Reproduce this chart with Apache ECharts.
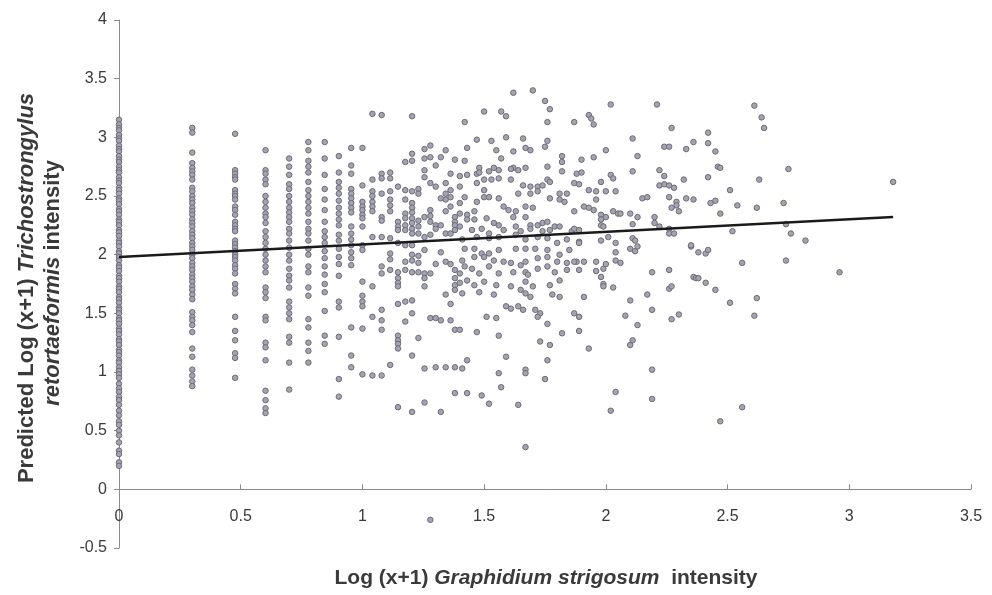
<!DOCTYPE html>
<html><head><meta charset="utf-8">
<script src="https://cdn.jsdelivr.net/npm/echarts@6/dist/echarts.min.js"></script>
<style>html,body{margin:0;padding:0;background:#fff}#c{width:992px;height:595px}</style>
</head><body><div id="c"></div>
<script>
// ---- data ----
const xTickLabels = ['0','0.5','1','1.5','2','2.5','3','3.5'];
const yTickLabels = ['-0.5','0','0.5','1','1.5','2','2.5','3','3.5','4'];

// discrete columns: x = log10(n+1)
const colX = [0, 0.301, 0.477, 0.602, 0.699, 0.778, 0.845, 0.903, 0.954, 1.0, 1.041, 1.079, 1.114, 1.146, 1.176, 1.204, 1.23, 1.255, 1.279, 1.301, 1.322, 1.342, 1.362, 1.38];
const yCol0 = [3.15,3.11,3.08,3.06,3.02,2.99,2.97,2.93,2.9,2.88,2.84,2.81,2.79,2.75,2.72,2.7,2.66,2.63,2.61,2.57,2.55,2.52,2.48,2.46,2.43,2.39,2.37,2.34,2.3,2.28,2.25,2.21,2.19,2.16,2.12,2.1,2.07,2.03,2.01,1.98,1.95,1.91,1.89,1.86,1.82,1.8,1.77,1.73,1.71,1.68,1.64,1.62,1.59,1.55,1.53,1.5,1.46,1.44,1.41,1.37,1.35,1.32,1.28,1.26,1.23,1.19,1.17,1.14,1.1,1.08,1.04,1.01,0.98,0.95,0.9,0.86,0.83,0.79,0.76,0.72,0.67,0.63,0.58,0.55,0.5,0.46,0.4,0.33,0.3,0.23,0.2];
const yCol1 = [3.08,3.04,2.87,2.78,2.74,2.71,2.68,2.64,2.57,2.54,2.5,2.47,2.44,2.4,2.37,2.34,2.3,2.27,2.24,2.2,2.17,2.14,2.1,2.07,2.04,2.0,1.97,1.93,1.9,1.87,1.83,1.8,1.77,1.73,1.7,1.66,1.62,1.51,1.47,1.44,1.4,1.34,1.2,1.13,1.02,0.97,0.92,0.88];
const yCol2 = [3.03,2.72,2.69,2.66,2.64,2.55,2.52,2.5,2.47,2.41,2.38,2.34,2.28,2.25,2.22,2.2,2.12,2.09,2.06,2.03,2.0,1.98,1.95,1.91,1.88,1.84,1.75,1.71,1.67,1.47,1.35,1.27,1.16,1.12,0.95];
const yCol3 = [2.89,2.72,2.69,2.64,2.6,2.5,2.45,2.4,2.35,2.32,2.27,2.2,2.15,2.1,2.05,2.0,1.95,1.9,1.85,1.72,1.68,1.63,1.47,1.44,1.25,1.21,1.1,0.84,0.76,0.69,0.65];
const yCol4 = [2.82,2.75,2.68,2.6,2.56,2.5,2.45,2.4,2.36,2.32,2.28,2.22,2.18,2.12,2.06,2.0,1.95,1.88,1.82,1.78,1.72,1.6,1.55,1.5,1.45,1.3,1.25,1.08,0.85];
const yCol5 = [2.96,2.89,2.8,2.75,2.7,2.62,2.55,2.5,2.45,2.4,2.35,2.28,2.22,2.18,2.12,2.05,2.0,1.9,1.85,1.72,1.65,1.45,1.38,1.25,1.18,1.08];
const yCol6 = [2.96,2.82,2.68,2.56,2.47,2.38,2.28,2.2,2.15,2.1,2.03,1.97,1.9,1.83,1.75,1.68,1.52,1.31,1.24];
const yCol7 = [2.84,2.7,2.62,2.57,2.52,2.46,2.4,2.35,2.3,2.25,2.17,2.12,2.05,1.98,1.92,1.82,1.6,1.55,1.3,0.94,0.79];
const yCol8 = [2.91,2.76,2.69,2.56,2.52,2.48,2.44,2.4,2.36,2.24,2.18,2.13,2.08,2.02,1.97,1.91,1.38,1.14,1.04];
const yCol9 = [2.91,2.59,2.45,2.41,2.38,2.34,2.31,2.24,2.08,2.04,1.77,1.65,1.6,1.56,1.37,0.98];
const yCol10 = [3.2,2.64,2.54,2.5,2.45,2.41,2.37,2.15,1.73,1.47,0.97];
const yCol11 = [3.19,2.69,2.65,2.52,2.32,2.29,2.15,1.9,1.84,1.53,1.44,1.36,0.97];
const yCol12 = [2.7,2.65,2.54,2.47,2.42,2.37,2.14,2.01,1.96,1.87,1.06];
const yCol13 = [2.58,2.28,2.24,2.21,2.1,1.85,1.8,1.76,1.73,1.58,1.31,1.27,1.24,1.2,0.7];
const yCol14 = [2.79,2.55,2.47,2.35,2.31,2.25,2.21,2.08,1.94,1.87,1.6,1.43];
const yCol15 = [3.18,2.86,2.8,2.54,2.44,2.4,2.36,2.31,2.27,2.22,2.18,2.08,2.0,1.95,1.85,1.61,1.5,1.14,0.66];
const yCol16 = [2.56,2.52,2.29,2.24,2.18,1.99,1.93,1.85,1.29];
const yCol17 = [2.9,2.82,2.72,2.66,2.32,2.15,2.04,1.84,1.8,1.73,1.03,0.74];
const yCol18 = [2.93,2.83,2.61,2.38,2.33,2.28,2.17,1.84,1.46,-0.26];
const yCol19 = [2.76,2.58,2.25,2.22,1.92,1.46,1.04];
const yCol20 = [2.83,2.48,2.25,2.02,1.44,0.66];
const yCol21 = [2.89,2.61,2.52,2.47,2.37,2.18,1.94,1.66,1.04];
const yCol22 = [2.69,2.55,2.49,2.41,2.18,1.92,1.58,1.44];
const yCol23 = [2.81,2.32,2.28,2.25,2.21,1.87,1.8,1.74,1.7,1.36,1.04,0.82];
const colY = [yCol0,yCol1,yCol2,yCol3,yCol4,yCol5,yCol6,yCol7,yCol8,yCol9,yCol10,yCol11,yCol12,yCol13,yCol14,yCol15,yCol16,yCol17,yCol18,yCol19,yCol20,yCol21,yCol22,yCol23];

// scattered points for larger x  [x, y]
const scatterPts = [
[1.62,3.38],[1.70,3.40],[1.50,3.22],[1.57,3.22],[1.59,3.18],[1.75,3.31],[1.77,3.24],[1.42,3.13],[1.76,3.13],[1.87,3.13],
[1.47,2.98],[1.53,2.97],[1.59,3.0],[1.66,2.99],[1.76,2.97],[1.43,2.91],[1.55,2.89],[1.62,2.88],[1.67,2.91],[1.69,2.89],[1.75,2.92],
[1.42,2.80],[1.57,2.82],[1.82,2.84],[1.82,2.79],[1.48,2.74],[1.54,2.74],[1.62,2.74],[1.76,2.75],
[1.40,2.67],[1.43,2.68],[1.47,2.69],[1.48,2.70],[1.52,2.71],[1.56,2.72],[1.61,2.73],[1.64,2.72],[1.67,2.74],[1.82,2.71],[1.88,2.69],
[1.40,2.58],[1.47,2.61],[1.50,2.64],[1.53,2.64],[1.56,2.65],[1.61,2.64],[1.66,2.59],[1.69,2.58],[1.72,2.58],[1.74,2.59],[1.76,2.64],[1.77,2.62],
[1.42,2.49],[1.50,2.55],[1.50,2.49],[1.52,2.49],[1.56,2.48],[1.64,2.52],[1.69,2.52],[1.72,2.54],[1.77,2.48],[1.81,2.52],[1.84,2.52],
[1.40,2.44],[1.47,2.45],[1.58,2.41],[1.60,2.38],[1.63,2.37],[1.67,2.41],[1.70,2.40],[1.81,2.47],[1.83,2.45],
[1.40,2.35],[1.43,2.34],[1.46,2.37],[1.46,2.30],[1.51,2.31],[1.54,2.27],[1.56,2.25],[1.62,2.32],[1.67,2.32],[1.69,2.25],[1.72,2.25],[1.74,2.27],[1.76,2.28],[1.79,2.24],
[1.40,2.24],[1.43,2.30],[1.45,2.21],[1.49,2.22],[1.52,2.18],[1.58,2.21],[1.63,2.24],[1.65,2.20],[1.69,2.22],[1.74,2.20],[1.77,2.21],[1.81,2.24],[1.86,2.20],
[1.41,2.13],[1.47,2.15],[1.52,2.14],[1.56,2.15],[1.63,2.17],[1.67,2.13],[1.72,2.15],[1.76,2.14],[1.80,2.10],[1.84,2.13],
[1.42,2.05],[1.46,2.05],[1.49,2.01],[1.52,2.01],[1.56,2.04],[1.63,2.05],[1.67,2.05],[1.71,2.05],[1.76,2.04],[1.81,2.0],[1.85,2.04],
[1.41,1.95],[1.46,1.98],[1.50,1.98],[1.54,1.95],[1.58,1.94],[1.61,1.93],[1.65,1.91],[1.67,1.94],[1.72,1.97],[1.76,1.98],[1.80,1.94],[1.84,1.93],[1.88,1.94],
[1.40,1.84],[1.42,1.90],[1.45,1.88],[1.48,1.84],[1.52,1.90],[1.56,1.84],[1.62,1.85],[1.67,1.85],[1.68,1.83],[1.72,1.88],[1.76,1.90],[1.79,1.85],[1.84,1.87],
[1.40,1.76],[1.43,1.78],[1.46,1.74],[1.50,1.77],[1.55,1.74],[1.61,1.73],[1.67,1.77],[1.70,1.73],[1.77,1.74],[1.81,1.78],
[1.41,1.67],[1.48,1.68],[1.54,1.66],[1.65,1.70],[1.67,1.67],[1.69,1.64],[1.78,1.66],[1.81,1.64],
[1.59,1.56],[1.61,1.54],[1.64,1.56],[1.66,1.53],[1.71,1.53],[1.73,1.50],[1.51,1.47],[1.55,1.46],[1.72,1.47],[1.76,1.41],
[1.40,1.36],[1.47,1.34],[1.56,1.31],[1.73,1.26],[1.82,1.33],[1.77,1.23],
[1.43,1.10],[1.59,1.13],[1.67,1.02],[1.67,0.99],[1.76,1.10],[1.41,1.03],[1.56,0.99],[1.57,0.87],[1.75,0.94],
[1.43,0.82],[1.49,0.80],[1.52,0.73],[1.64,0.72],[1.67,0.36],
[2.02,3.28],[2.21,3.28],[1.93,3.19],[1.94,3.16],[1.95,3.11],[2.11,2.99],[2.27,3.08],[2.24,2.92],[2.26,2.92],[2.33,2.90],[2.36,2.96],
[2.00,2.89],[1.90,2.81],[1.95,2.83],[2.13,2.84],[1.90,2.70],[2.02,2.68],[2.03,2.65],[2.11,2.71],[2.22,2.72],[2.24,2.67],[2.32,2.64],
[1.87,2.61],[1.89,2.60],[1.98,2.62],[2.22,2.59],[2.24,2.60],[2.26,2.59],[2.28,2.57],[1.93,2.55],[1.96,2.54],[2.0,2.54],[2.04,2.54],
[1.96,2.47],[2.15,2.48],[2.17,2.49],[2.26,2.49],[2.29,2.45],[2.29,2.42],[2.33,2.48],[2.36,2.47],[1.91,2.41],[1.93,2.40],[1.95,2.38],
[2.27,2.40],[2.30,2.37],[1.87,2.37],[1.98,2.34],[2.0,2.32],[2.03,2.37],[2.05,2.35],[2.06,2.35],[2.10,2.35],[2.13,2.32],[2.20,2.32],
[1.98,2.30],[1.98,2.25],[1.99,2.24],[2.11,2.26],[2.20,2.27],[2.22,2.24],[1.87,2.22],[1.89,2.21],[2.26,2.22],[2.26,2.18],[2.28,2.18],
[1.89,2.11],[1.89,2.10],[1.98,2.12],[2.01,2.15],[2.04,2.10],[2.11,2.14],[2.12,2.12],[2.10,2.05],[2.12,2.03],[2.13,2.07],[2.35,2.07],[2.04,2.02],
[1.87,1.94],[1.91,1.94],[1.96,1.94],[2.0,1.92],[2.04,1.95],[2.06,1.93],[1.89,1.87],[1.96,1.86],[1.99,1.88],[2.19,1.85],[2.26,1.87],
[1.98,1.81],[1.99,1.75],[1.99,1.73],[2.03,1.72],[2.26,1.71],[2.27,1.73],[2.36,1.81],[1.91,1.64],[2.10,1.61],[2.17,1.66],[2.19,1.53],
[1.87,1.50],[1.89,1.47],[2.08,1.48],[2.27,1.45],[2.30,1.49],[1.89,1.35],[2.13,1.40],[2.10,1.23],[2.11,1.27],[1.93,1.20],
[2.19,1.02],[2.04,0.83],[2.19,0.77],[2.02,0.67],
[2.61,3.27],[2.64,3.17],[2.65,3.08],[2.42,3.04],[2.42,2.95],[2.45,2.88],[2.46,2.75],[2.47,2.74],[2.75,2.73],[2.42,2.66],[2.63,2.64],
[2.51,2.55],[2.43,2.44],[2.45,2.46],[2.54,2.42],[2.62,2.40],[2.73,2.44],[2.47,2.35],[2.74,2.26],[2.52,2.20],[2.76,2.18],[2.82,2.12],
[2.35,2.08],[2.38,2.02],[2.41,2.01],[2.42,2.04],[2.56,1.93],[2.74,1.95],[2.37,1.80],[2.38,1.80],[2.41,1.76],[2.45,1.70],[2.51,1.59],
[2.62,1.63],[2.61,1.48],[2.56,0.70],[2.47,0.58],
[3.18,2.62],[2.96,1.85]
];

// fitted regression line
const lineX = [0, 3.18];
const lineY = [1.98, 2.32];

// ---- build ----
const pts = [];
colX.forEach((x, i) => colY[i].forEach(y => pts.push([x, y])));
scatterPts.forEach(p => pts.push(p));

const FONT = "'Liberation Sans', Arial, sans-serif";
const TXT = '#3a3a3a';
const richStyles = size => ({
  n: {fontFamily: FONT, fontSize: size, fontWeight: 'bold', fill: TXT, color: TXT},
  i: {fontFamily: FONT, fontSize: size, fontWeight: 'bold', fontStyle: 'italic', fill: TXT, color: TXT}
});
const chart = echarts.init(document.getElementById('c'), null, {renderer: 'canvas'});
chart.setOption({
  animation: false,
  backgroundColor: '#ffffff',
  grid: {left: 119, right: 21, top: 20, bottom: 47, containLabel: false},
  xAxis: {
    type: 'value', min: 0, max: 3.5, interval: 0.5,
    axisLine: {onZero: true, lineStyle: {color: '#8a8a8a', width: 1}},
    axisTick: {show: true, inside: true, length: 5, lineStyle: {color: '#8a8a8a'}},
    axisLabel: {margin: -39, fontFamily: FONT, fontSize: 16, color: TXT, hideOverlap: false,
      formatter: v => xTickLabels[Math.round(v / 0.5)]},
    splitLine: {show: false}
  },
  yAxis: {
    type: 'value', min: -0.5, max: 4, interval: 0.5,
    axisLine: {onZero: false, lineStyle: {color: '#8a8a8a', width: 1}},
    axisTick: {show: true, inside: false, length: 5, lineStyle: {color: '#8a8a8a'}},
    axisLabel: {margin: 12, fontFamily: FONT, fontSize: 16, color: TXT,
      formatter: v => yTickLabels[Math.round((v + 0.5) / 0.5)]},
    splitLine: {show: false}
  },
  graphic: [
    {type: 'text', x: 27, y: 288, rotation: Math.PI / 2,
      style: {text: '{n|Predicted Log (x+1) }{i|Trichostrongylus}', align: 'center', verticalAlign: 'middle', rich: richStyles(22)}},
    {type: 'text', x: 53, y: 283, rotation: Math.PI / 2,
      style: {text: '{i|retortaeformis}{n| intensity}', align: 'center', verticalAlign: 'middle', rich: richStyles(22)}},
    {type: 'text', x: 546, y: 578,
      style: {text: '{n|Log (x+1) }{i|Graphidium strigosum}{n|  intensity}', align: 'center', verticalAlign: 'middle', rich: richStyles(21)}}
  ],
  series: [
    {type: 'scatter', data: pts, symbol: 'circle', symbolSize: 5.5,
      itemStyle: {color: '#a4a4b0', borderColor: '#6c6c7a', borderWidth: 1, opacity: 1}, z: 2},
    {type: 'line', data: lineX.map((x, i) => [x, lineY[i]]), symbol: 'none',
      lineStyle: {color: '#1a1a1a', width: 2.5}, z: 3}
  ]
});
</script></body></html>
